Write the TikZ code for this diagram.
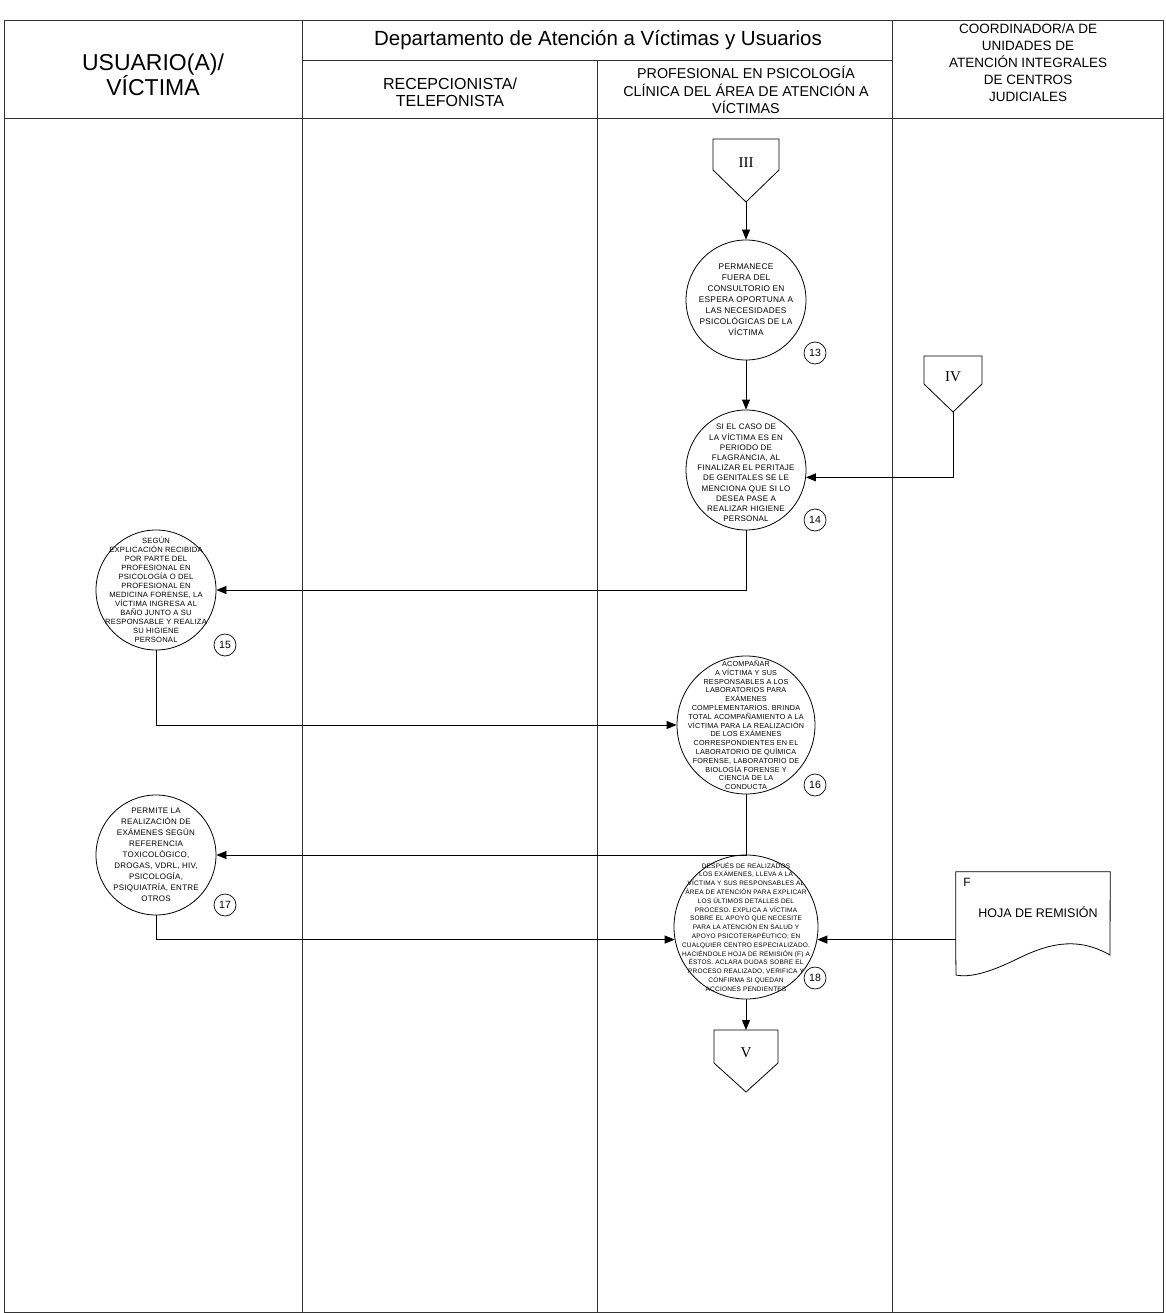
\documentclass[tikz,border=0pt]{standalone}
\usepackage{fontspec}
\setmainfont{Liberation Sans}
\newfontfamily\romfont{Liberation Serif}
\newfontfamily\circfont[LetterSpace=3]{Liberation Sans}
\usetikzlibrary{arrows.meta,positioning}

\tikzset{
  lane/.style={draw=black!80, line width=0.8pt},
  flow/.style={draw, line width=0.8pt, -{Triangle[length=10pt,width=8pt]}},
  actcirc/.style={circle, draw, line width=0.8pt, inner sep=0pt, minimum size=#1},
  acttext/.style 2 args={align=center, inner sep=0pt, font=\circfont\fontsize{#1}{#2}\selectfont},
  stepnum/.style={circle, draw, line width=0.7pt, minimum size=22pt, inner sep=0pt, font=\fontsize{10.5}{12}\selectfont},
  pagelabel/.style={inner sep=0pt, font=\romfont\fontsize{15}{18}\selectfont},
  offpage/.style={draw, line width=0.8pt},
  head/.style={align=center, inner sep=0pt}
}

\begin{document}
\begin{tikzpicture}[x=1pt,y=-1pt]
  \useasboundingbox (0,0) rectangle (1165,1313);

  % Swimlanes
  \draw[lane] (4,20) rectangle (1163,1312);
  \draw[lane] (302,60) -- (892,60);
  \draw[lane] (4,118) -- (1163,118);
  \draw[lane] (302,20) -- (302,1312);
  \draw[lane] (597,60) -- (597,1312);
  \draw[lane] (892,20) -- (892,1312);

  % Lane headers
  \node[head, font=\fontsize{23}{25}\selectfont] (hUser) at (153,75) {USUARIO(A)/\\V\'ICTIMA};
  \node[head, font=\fontsize{20.5}{24}\selectfont] (hDept) at (598,40) {Departamento de Atenci\'on a V\'ictimas y Usuarios};
  \node[head, font=\fontsize{16}{17}\selectfont] (hRecep) at (450,92) {RECEPCIONISTA/\\TELEFONISTA};
  \node[head, font=\fontsize{14.3}{17.5}\selectfont] (hPsic) at (746,90) {PROFESIONAL EN PSICOLOG\'IA\\CL\'INICA DEL \'AREA DE ATENCI\'ON A\\V\'ICTIMAS};
  \node[head, font=\fontsize{13.5}{17}\selectfont] (hCoord) at (1028,63) {COORDINADOR/A DE\\UNIDADES DE\\ATENCI\'ON INTEGRALES\\DE CENTROS\\JUDICIALES};

  % Off-page connectors
  \draw[offpage] (713,139) -- (779,139) -- (779,170) -- (746,202) -- (713,170) -- cycle;
  \node[pagelabel] (p3) at (746,163) {III};
  \coordinate (p3tip) at (746,202);
  \draw[offpage] (924,356) -- (982,356) -- (982,384) -- (953,412) -- (924,384) -- cycle;
  \node[pagelabel] (p4) at (953,377) {IV};
  \coordinate (p4tip) at (953,412);
  \draw[offpage] (714,1030) -- (778,1030) -- (778,1063) -- (746,1092) -- (714,1063) -- cycle;
  \node[pagelabel] (p5) at (746,1053) {V};
  \coordinate (p5top) at (746,1030);

  % Activities
  \node[actcirc=120] (a13) at (746,300) {};
  \node[acttext={8.3}{11}] (t13) at (a13) {PERMANECE\\FUERA DEL\\CONSULTORIO EN\\ESPERA OPORTUNA A\\LAS NECESIDADES\\PSICOL\'OGICAS DE LA\\V\'ICTIMA};
  \node[stepnum] (n13) at (815,353) {13};

  \node[actcirc=120] (a14) at (746,470) {};
  \node[acttext={8}{10.2}] (t14) at ([yshift=-3pt]a14.center) {SI EL CASO DE\\LA V\'ICTIMA ES EN\\PERIODO DE\\FLAGRANCIA, AL\\FINALIZAR EL PERITAJE\\DE GENITALES SE LE\\MENCIONA QUE SI LO\\DESEA PASE A\\REALIZAR HIGIENE\\PERSONAL};
  \node[stepnum] (n14) at (815,520) {14};

  \node[actcirc=120] (a15) at (156,590) {};
  \node[acttext={7.6}{9}] (t15) at (a15) {SEG\'UN\\EXPLICACI\'ON RECIBIDA\\POR PARTE DEL\\PROFESIONAL EN\\PSICOLOG\'IA O DEL\\PROFESIONAL EN\\MEDICINA FORENSE, LA\\V\'ICTIMA INGRESA AL\\BA\~NO JUNTO A SU\\RESPONSABLE Y REALIZA\\SU HIGIENE\\PERSONAL};
  \node[stepnum] (n15) at (225,645) {15};

  \node[actcirc=138] (a16) at (746,725) {};
  \node[acttext={7.2}{8.8}] (t16) at (a16) {ACOMPA\~NAR\\A V\'ICTIMA Y SUS\\RESPONSABLES A LOS\\LABORATORIOS PARA\\EX\'AMENES\\COMPLEMENTARIOS. BRINDA\\TOTAL ACOMPA\~NAMIENTO A LA\\V\'ICTIMA PARA LA REALIZACI\'ON\\DE LOS EX\'AMENES\\CORRESPONDIENTES EN EL\\LABORATORIO DE QU\'IMICA\\FORENSE, LABORATORIO DE\\BIOLOG\'IA FORENSE Y\\CIENCIA DE LA\\CONDUCTA};
  \node[stepnum] (n16) at (815,785) {16};

  \node[actcirc=120] (a17) at (156,855) {};
  \node[acttext={8}{11}] (t17) at (a17) {PERMITE LA\\REALIZACI\'ON DE\\EX\'AMENES SEG\'UN\\REFERENCIA\\TOXICOL\'OGICO,\\DROGAS, VDRL, HIV,\\PSICOLOG\'IA,\\PSIQUIATR\'IA, ENTRE\\OTROS};
  \node[stepnum] (n17) at (225,905) {17};

  \node[actcirc=144] (a18) at (746,927) {};
  \node[acttext={6.5}{8.8}] (t18) at (a18) {DESPU\'ES DE REALIZADOS\\LOS EX\'AMENES, LLEVA A LA\\V\'ICTIMA Y SUS RESPONSABLES AL\\\'AREA DE ATENCI\'ON PARA EXPLICAR\\LOS \'ULTIMOS DETALLES DEL\\PROCESO. EXPLICA A V\'ICTIMA\\SOBRE EL APOYO QUE NECESITE\\PARA LA ATENCI\'ON EN SALUD Y\\APOYO PSICOTERAP\'EUTICO; EN\\CUALQUIER CENTRO ESPECIALIZADO.\\HACI\'ENDOLE HOJA DE REMISI\'ON (F) A\\\'ESTOS. ACLARA DUDAS SOBRE EL\\PROCESO REALIZADO, VERIFICA Y\\CONFIRMA SI QUEDAN\\ACCIONES PENDIENTES};
  \node[stepnum] (n18) at (815,978) {18};

  % Document F
  \node[minimum width=154pt, minimum height=85pt, inner sep=0pt] (docbox) at (1033,914.5) {};
  \draw[offpage] (docbox.south west) -- (docbox.north west) -- (docbox.north east) -- (1110,955)
    .. controls (1075,935) and (1045,945) .. (1015,960) .. controls (990,972) and (970,978) .. (956,975) -- cycle;
  \node[inner sep=0pt, font=\fontsize{12}{14}\selectfont] (docF) at (967,882) {F};
  \node[inner sep=0pt, font=\fontsize{12.5}{14}\selectfont] (docName) at (1038,912) {HOJA DE REMISI\'ON};

  % Flow
  \draw[flow] (p3tip) -- (a13);
  \draw[flow] (a13) -- (a14);
  \draw[flow] (p4tip) |- (a14.353);
  \draw[flow] (a14.south) |- (a15);
  \draw[flow] (a15.south) |- (a16);
  \draw[flow] (a16.south) |- (a17);
  \draw[flow] (a17.south) |- (a18.190);
  \draw[flow] (docbox.west |- a18.350) -- (a18.350);
  \draw[flow] (a18) -- (p5top);
\end{tikzpicture}
\end{document}
